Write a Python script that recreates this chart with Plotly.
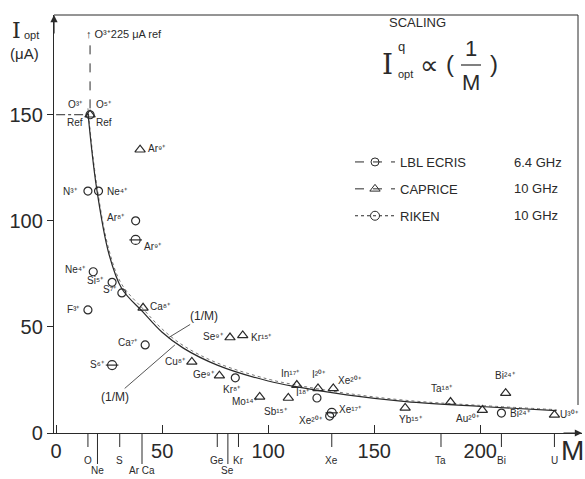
import plotly.graph_objects as go

# ---------------- data ----------------
LBL_M = [16, 15, 20, 37.5, 17.5, 26.4, 31, 15, 42, 84.5, 123, 129, 210]
LBL_I = [150, 114, 114, 100, 76, 71, 66, 58, 41.5, 26, 16.5, 8, 9.4]
LBL_LABELS = ["", "N³⁺", "Ne⁴⁺", "Ar⁸⁺", "Ne⁴⁺", "Si⁵⁺", "S⁷⁺", "F³⁺", "Ca⁷⁺",
              "Kr⁸⁺", "I¹⁸⁺", "Xe²⁰⁺", "Bi²⁴⁺"]

CAP_M = [16, 39.6, 41, 64, 82, 88, 77, 96, 109.5, 113.5, 123.5, 130.7, 164.6, 186, 201, 212, 235]
CAP_I = [150, 133.5, 59, 33.5, 45, 46, 27, 17, 16.5, 22.6, 21, 21, 11.8, 14.6, 10.8, 18.8, 8.5]
CAP_LABELS = ["", "Ar⁹⁺", "Ca⁸⁺", "Cu⁸⁺", "Se⁹⁺", "Kr¹⁵⁺", "Ge⁹⁺", "Mo¹⁴⁺", "Sb¹⁵⁺",
              "In¹⁷⁺", "I²⁰⁺", "Xe²⁰⁺", "Yb¹⁵⁺", "Ta¹⁸⁺", "Au²⁰⁺", "Bi²⁴⁺", "U³⁰⁺"]

RIK_M = [37.5, 26.4, 130]
RIK_I = [91, 32, 9.5]
RIK_LABELS = ["Ar⁹⁺", "S⁶⁺", "Xe¹⁷⁺"]

# 1/M scaling curves as traced on the picture
CURVE_M = [15, 19, 25, 31, 41, 50, 60, 76, 100, 115, 137, 165, 200, 236]
CURVE_A = [151, 116, 84, 68, 57, 47.5, 40, 32, 24.5, 21.5, 18, 14.8, 12.5, 10.5]
CURVE_B = [153, 118, 86, 70, 58.5, 49, 41.2, 33, 25.4, 22.3, 18.7, 15.4, 13, 11]

REF_M = 16
REF_I = 150
REF_TOP = 185

X_TICKS = [0, 50, 100, 150, 200]
Y_TICKS = [0, 50, 100, 150]

ELEM_M = [15, 19.5, 30, 40.5, 76, 81, 86, 130, 181.5, 210, 235]
ELEM_NAMES = ["O", "Ne", "S", "Ar Ca", "Ge", "Se", "Kr", "Xe", "Ta", "Bi", "U"]
ELEM_ROW = [1, 2, 1, 2, 1, 2, 1, 1, 1, 1, 1]

LEGEND_NAMES = ["LBL ECRIS", "CAPRICE", "RIKEN"]
LEGEND_FREQ = ["6.4 GHz", "10 GHz", "10 GHz"]

# ---------------- layout helpers ----------------
L, T, W, H = 54, 15, 528, 418
INK = "#2a2a2a"
FONT = "Liberation Sans"


def xp(px):
    return (px - L) / W


def yp(py):
    return (T + H - py) / H


def ptext(px, py, txt, size, family=FONT, xa="center", ya="middle"):
    return dict(x=xp(px), y=yp(py), xref="paper", yref="paper", text=txt, showarrow=False,
                xanchor=xa, yanchor=ya, font=dict(size=size, color=INK, family=family))


LBL_OFF = [(0, 0), (-17, 0), (19, 0), (-20, -3), (-18, -2), (-17, -2), (-12, -3), (-14, 0),
           (-17, -2), (-3, 12), (-14, -5), (-19, 4), (19, 0)]
CAP_OFF = [(0, 0), (17, -1), (17, -1), (-16, 0), (-17, -1), (19, 2), (-15, -1), (-15, 5),
           (-12, 14), (-6, -12), (1, -14), (17, -8), (6, 12), (-9, -14), (-14, 8), (0, -18), (15, 0)]
RIK_OFF = [(17, 7), (-15, -1), (19, -3)]

fig = go.Figure()

fig.add_trace(go.Scatter(x=CURVE_M, y=CURVE_B, mode="lines", line_shape="spline",
                         line=dict(color="#777", width=1, dash="dot"), showlegend=False))
fig.add_trace(go.Scatter(x=CURVE_M, y=CURVE_A, mode="lines", line_shape="spline",
                         line=dict(color=INK, width=1.2), showlegend=False))

fig.add_trace(go.Scatter(x=LBL_M, y=LBL_I, mode="markers", showlegend=False,
                         marker=dict(symbol="circle-open", size=8, color=INK, line=dict(width=1.2))))
fig.add_trace(go.Scatter(x=CAP_M, y=CAP_I, mode="markers", showlegend=False,
                         marker=dict(symbol="triangle-up-open", size=9, color=INK, line=dict(width=1.2))))
fig.add_trace(go.Scatter(x=RIK_M, y=RIK_I, mode="markers", showlegend=False,
                         marker=dict(symbol="circle-open", size=9, color=INK, line=dict(width=1.2))))
fig.add_trace(go.Scatter(x=RIK_M, y=RIK_I, mode="markers", showlegend=False,
                         marker=dict(symbol="line-ew-open", size=9, color=INK, line=dict(width=1.2))))

# legend proxies
proxy_styles = [("circle-open", 8, "dash"), ("triangle-up-open", 9, "dash"), ("circle-open", 9, "dot")]
for i, (name, (sym, sz, dash)) in enumerate(zip(LEGEND_NAMES, proxy_styles)):
    fig.add_trace(go.Scatter(x=[None], y=[None], mode="lines+markers", name=name,
                             legendgroup=f"g{i}",
                             line=dict(color=INK, width=1, dash=dash),
                             marker=dict(symbol=sym, size=sz, color=INK)))

ann = []


def add_labels(ms, vs, labs, offs):
    for m, v, lab, (dx, dy) in zip(ms, vs, labs, offs):
        if not lab:
            continue
        ann.append(dict(x=m, y=v, xref="x", yref="y", text=lab, showarrow=False,
                        xshift=dx, yshift=-dy, font=dict(size=10, color=INK, family=FONT)))


add_labels(LBL_M, LBL_I, LBL_LABELS, LBL_OFF)
add_labels(CAP_M, CAP_I, CAP_LABELS, CAP_OFF)
add_labels(RIK_M, RIK_I, RIK_LABELS, RIK_OFF)

# reference labels
for txt, dx, dy in [("O³⁺", -15, -10), ("O⁵⁺", 14, -10), ("Ref", -15, 8), ("Ref", 14, 8)]:
    ann.append(dict(x=REF_M, y=REF_I, xref="x", yref="y", text=txt, showarrow=False,
                    xshift=dx, yshift=-dy, font=dict(size=10, color=INK, family=FONT)))
ann.append(dict(x=REF_M, y=REF_TOP, xref="x", yref="y", text="↑ O³⁺225 μA ref", showarrow=False,
                xanchor="left", yanchor="middle", xshift=-6, yshift=6,
                font=dict(size=11, color=INK, family=FONT)))

# (1/M) labels with leader lines
ann.append(dict(x=52.8, y=44.8, xref="x", yref="y", text="(1/M)", showarrow=True, arrowhead=0,
                arrowwidth=0.8, arrowcolor=INK, ax=36, ay=-22, standoff=0,
                font=dict(size=12, color=INK, family=FONT)))
ann.append(dict(x=56, y=41.5, xref="x", yref="y", text="(1/M)", showarrow=True, arrowhead=0,
                arrowwidth=0.8, arrowcolor=INK, ax=-60, ay=52, standoff=0,
                font=dict(size=12, color=INK, family=FONT)))

# element names below the axis
for m, name, row in zip(ELEM_M, ELEM_NAMES, ELEM_ROW):
    ann.append(dict(x=m, y=yp(460 if row == 1 else 471), xref="x", yref="paper", text=name,
                    showarrow=False, xanchor="center", yanchor="middle", borderpad=0,
                    font=dict(size=10, color=INK, family=FONT)))

# axis titles
ann += [
    ptext(16, 30, "I", 22, "DejaVu Serif"),
    ptext(31, 35, "opt", 11),
    ptext(24, 53, "(μA)", 15),
    ptext(572, 451, "M", 28),
]

# scaling formula
ann += [
    ptext(417, 22, "SCALING", 13),
    ptext(387, 64, "I", 28, "DejaVu Serif"),
    ptext(401, 47, "q", 13),
    ptext(405, 74, "opt", 11),
    ptext(429, 65, "∝", 26),
    ptext(450, 63, "(", 24),
    ptext(471, 48, "1", 22),
    ptext(471, 82, "M", 22),
    ptext(494, 63, ")", 24),
]

# GHz column of the legend
for txt, py in zip(LEGEND_FREQ, [163, 189, 215]):
    ann.append(ptext(512, py, txt, 13, xa="left"))

# axis arrows
ann.append(dict(x=-1, y=197, xref="x", yref="y", ax=0, ay=20, showarrow=True, arrowhead=2,
                arrowsize=1.2, arrowwidth=1.2, arrowcolor=INK, text=""))
ann.append(dict(x=248, y=0, xref="x", yref="y", ax=-20, ay=0, showarrow=True, arrowhead=2,
                arrowsize=1.2, arrowwidth=1.2, arrowcolor=INK, text=""))

shapes = []
# element tick marks
for m, row in zip(ELEM_M, ELEM_ROW):
    shapes.append(dict(type="line", xref="x", yref="paper", x0=m, x1=m, y0=0,
                       y1=yp(447 if row == 1 else 464), line=dict(color=INK, width=1)))
# reference dashed lines
shapes.append(dict(type="line", xref="x", yref="y", x0=REF_M, x1=REF_M, y0=REF_I + 3, y1=REF_TOP,
                   line=dict(color=INK, width=1, dash="dash")))
shapes.append(dict(type="line", xref="x", yref="y", x0=0, x1=REF_M, y0=REF_I, y1=REF_I,
                   line=dict(color=INK, width=1, dash="dashdot")))
# fraction bar in the formula
shapes.append(dict(type="line", xref="paper", yref="paper", x0=xp(461), x1=xp(481),
                   y0=yp(65), y1=yp(65), line=dict(color=INK, width=1.2)))
# frame
shapes.append(dict(type="line", xref="paper", yref="paper", x0=0, x1=xp(578), y0=1, y1=1,
                   line=dict(color=INK, width=1)))
shapes.append(dict(type="line", xref="paper", yref="paper", x0=xp(578), x1=xp(578), y0=1,
                   y1=yp(405), line=dict(color=INK, width=1)))

fig.update_layout(
    width=585, height=479,
    margin=dict(l=L, r=585 - L - W, t=T, b=479 - T - H),
    paper_bgcolor="white", plot_bgcolor="white",
    font=dict(family=FONT, color=INK),
    annotations=ann, shapes=shapes,
    legend=dict(x=xp(350), y=yp(147), xanchor="left", yanchor="top",
                bgcolor="rgba(0,0,0,0)", font=dict(size=13, color=INK, family=FONT),
                itemwidth=40, tracegroupgap=7),
    xaxis=dict(range=[-1, 248], showgrid=False, zeroline=False, showline=True,
               linecolor=INK, linewidth=1.3, tickvals=X_TICKS, ticks="inside", ticklen=8,
               tickcolor=INK, tickfont=dict(size=20, color=INK, family=FONT)),
    yaxis=dict(range=[0, 197], showgrid=False, zeroline=False, showline=True,
               linecolor=INK, linewidth=1.3, tickvals=Y_TICKS, ticks="outside", ticklen=6,
               tickcolor=INK, tickfont=dict(size=20, color=INK, family=FONT)),
)

fig.write_html("out.html", config={"displayModeBar": False},
               post_script="document.body.style.margin='0px';")
